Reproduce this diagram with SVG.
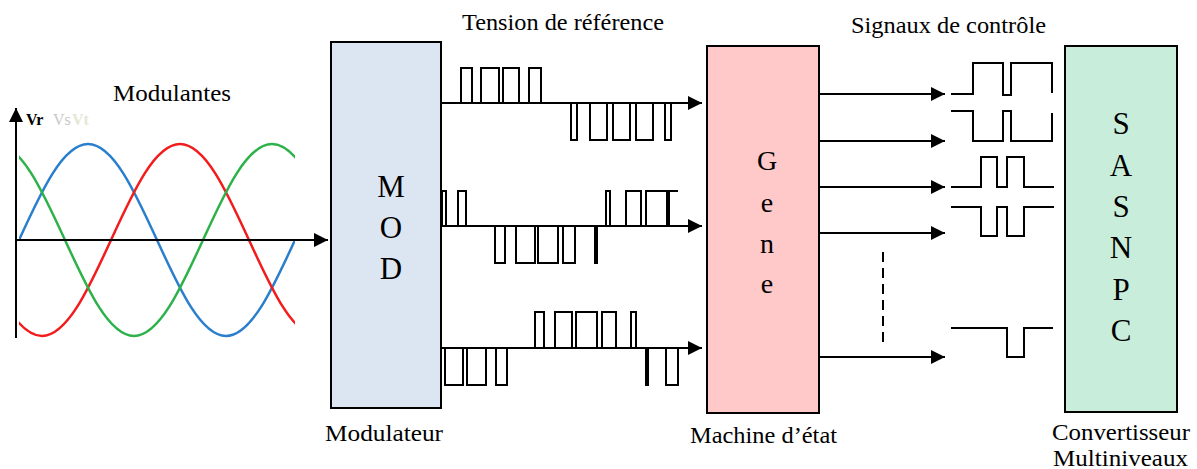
<svg xmlns="http://www.w3.org/2000/svg" width="1197" height="469" viewBox="0 0 1197 469" font-family="'Liberation Serif', 'DejaVu Serif', 'Times New Roman', serif">
<style>
  text { font-family: "Liberation Serif", "DejaVu Serif", "Times New Roman", serif; fill: #000; }
  .lbl { font-size: 23px; }
  .big { font-size: 31px; text-anchor: middle; }
  .box { stroke: #000; stroke-width: 2; }
  .ln { fill: none; stroke: #000; stroke-width: 2; }
  .sig { fill: none; stroke: #000; stroke-width: 2; stroke-linejoin: miter; }
  .sine { fill: none; stroke-width: 2.5; }
</style>
<defs>
  <marker id="ah" markerUnits="userSpaceOnUse" markerWidth="14" markerHeight="14" viewBox="0 0 14 14" refX="14" refY="7" orient="auto">
    <path d="M0,0 L14,7 L0,14 z" fill="#000"/>
  </marker>
  <clipPath id="sclip"><rect x="19" y="100" width="276" height="250"/></clipPath>
</defs>

<g id="modulantes">
  <text class="lbl" x="113" y="101" textLength="118" lengthAdjust="spacingAndGlyphs">Modulantes</text>
  <text x="26" y="125" font-size="16" font-weight="bold">Vr</text>
  <text x="53" y="125" font-size="16" style="fill:#c8c8c8">Vs</text>
  <text x="72" y="125" font-size="16" font-weight="bold" style="fill:#e6e6d6">Vt</text>
  <g clip-path="url(#sclip)">
    <path class="sine" stroke="#2a7fcc" d="M19,240 c22.5,-49.18 44.03,-96 69,-96 c24.97,0 46.5,46.82 69,96 c22.5,49.18 44.03,96 69,96 c24.97,0 46.5,-46.82 69,-96"/>
    <path class="sine" stroke="#f21c1c" d="M-27,240 c22.5,49.18 44.03,96 69,96 c24.97,0 46.5,-46.82 69,-96 c22.5,-49.18 44.03,-96 69,-96 c24.97,0 46.5,46.82 69,96 c22.5,49.18 44.03,96 69,96"/>
    <path class="sine" stroke="#2db24a" d="M-73,240 c22.5,-49.18 44.03,-96 69,-96 c24.97,0 46.5,46.82 69,96 c22.5,49.18 44.03,96 69,96 c24.97,0 46.5,-46.82 69,-96 c22.5,-49.18 44.03,-96 69,-96 c24.97,0 46.5,46.82 69,96"/>
  </g>
  <line class="ln" x1="16" y1="338" x2="16" y2="108" marker-end="url(#ah)"/>
</g>

<g id="mod">
  <rect class="box" x="331" y="42" width="110" height="366" fill="#dce6f2"/>
  <text class="big" x="391" y="197">M</text>
  <text class="big" x="391" y="238">O</text>
  <text class="big" x="391" y="279">D</text>
  <text class="lbl" x="325" y="441" textLength="118" lengthAdjust="spacingAndGlyphs">Modulateur</text>
</g>

<g id="gene">
  <rect class="box" x="707" y="46" width="112" height="367" fill="#ffc9c9"/>
  <text class="big" x="767" y="170" font-size="28" style="font-size:28px">G</text>
  <text class="big" x="767" y="212" style="font-size:28px">e</text>
  <text class="big" x="767" y="253" style="font-size:28px">n</text>
  <text class="big" x="767" y="293" style="font-size:28px">e</text>
  <text class="lbl" x="690" y="443" textLength="147" lengthAdjust="spacingAndGlyphs">Machine d’état</text>
</g>

<g id="sasnpc">
  <rect class="box" x="1065" y="46" width="112" height="366" fill="#c8eedb"/>
  <text class="big" x="1121" y="134">S</text>
  <text class="big" x="1121" y="176">A</text>
  <text class="big" x="1121" y="217">S</text>
  <text class="big" x="1121" y="258">N</text>
  <text class="big" x="1121" y="300">P</text>
  <text class="big" x="1121" y="341">C</text>
  <text class="lbl" x="1052" y="440" textLength="138" lengthAdjust="spacingAndGlyphs">Convertisseur</text>
  <text class="lbl" x="1053" y="466" textLength="135" lengthAdjust="spacingAndGlyphs">Multiniveaux</text>
</g>

<g id="labels">
  <text class="lbl" x="462" y="30" textLength="202" lengthAdjust="spacingAndGlyphs">Tension de référence</text>
  <text class="lbl" x="851" y="33" textLength="195" lengthAdjust="spacingAndGlyphs">Signaux de contrôle</text>
</g>

<g id="connectors">
  <line class="ln" x1="16" y1="240" x2="328" y2="240" marker-end="url(#ah)"/>
  <line class="ln" x1="441" y1="103" x2="702" y2="103" marker-end="url(#ah)"/>
  <line class="ln" x1="441" y1="226" x2="702" y2="226" marker-end="url(#ah)"/>
  <line class="ln" x1="441" y1="348" x2="702" y2="348" marker-end="url(#ah)"/>
  <line class="ln" x1="819" y1="94" x2="945" y2="94" marker-end="url(#ah)"/>
  <line class="ln" x1="819" y1="141" x2="945" y2="141" marker-end="url(#ah)"/>
  <line class="ln" x1="819" y1="187" x2="945" y2="187" marker-end="url(#ah)"/>
  <line class="ln" x1="819" y1="233" x2="945" y2="233" marker-end="url(#ah)"/>
  <line class="ln" x1="819" y1="357" x2="945" y2="357" marker-end="url(#ah)"/>
  <line class="ln" x1="883" y1="252" x2="883" y2="342" stroke-dasharray="10 6"/>
</g>

<g id="pulses-ref">
  <path class="sig" d="M461,103 V68 H472 V103 M481,103 V68 H499 V103 M503,103 V68 H519 V103 M529,103 V68 H541 V103 M571,103 V140 H577 V103 M590,103 V140 H607 V103 M613,103 V140 H630 V103 M636,103 V140 H653 V103 M665,103 V140 H671 V103"/>
  <path class="sig" d="M442,226 V191 H446 V226 M458,226 V191 H466 V226 M495,226 V263 H505 V226 M516,226 V263 H535 V226 M538,226 V263 H558 V226 M563,226 V263 H575 V226 M595,226 V263 H597 V226 M606,226 V191 H610 V226 M626,226 V191 H641 V226 M646,226 V191 H667 V226 M669,226 V191 H678"/>
  <path class="sig" d="M445,348 V385 H463 V348 M467,348 V385 H486 V348 M496,348 V385 H507 V348 M535,348 V312 H544 V348 M555,348 V312 H572 V348 M576,348 V312 H597 V348 M602,348 V312 H616 V348 M631,348 V312 H636 V348 M646,348 V385 H648 V348 M666,348 V385 H678 V348"/>
</g>

<g id="signaux">
  <path class="sig" d="M951,94 H973 V63 H1003 V95 H1011 V63 H1052 V93"/>
  <path class="sig" d="M951,111 H973 V141 H1003 V111 H1011 V141 H1052 V113"/>
  <path class="sig" d="M951,187 H981 V157 H997 V187 H1007 V157 H1024 V187 H1054"/>
  <path class="sig" d="M951,207 H981 V236 H997 V207 H1007 V236 H1024 V207 H1054"/>
  <path class="sig" d="M951,328 H1007 V357 H1024 V328 H1053"/>
</g>
</svg>
